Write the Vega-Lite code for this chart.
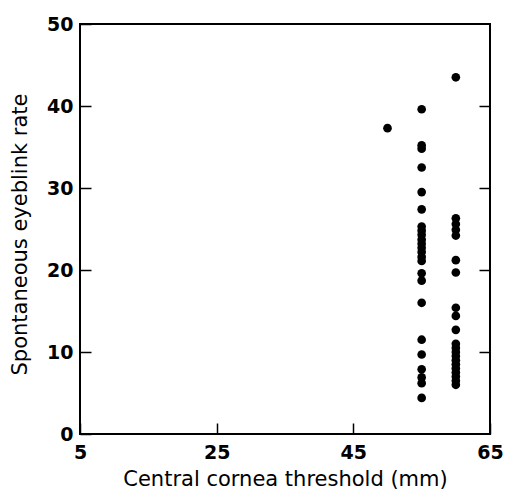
{
  "$schema": "https://vega.github.io/schema/vega-lite/v6.json",
  "width": 410,
  "height": 410,
  "autosize": {"type": "none"},
  "padding": {"left": 80, "top": 24, "right": 16, "bottom": 64},
  "background": "white",
  "config": {
    "font": "DejaVu Sans",
    "view": {"stroke": "black", "strokeWidth": 2}
  },
  "data": {
    "values": [
      {"threshold": 50, "rate": 37.3},
      {"threshold": 55, "rate": 39.6},
      {"threshold": 55, "rate": 35.2},
      {"threshold": 55, "rate": 34.8},
      {"threshold": 55, "rate": 32.5},
      {"threshold": 55, "rate": 29.5},
      {"threshold": 55, "rate": 27.4},
      {"threshold": 55, "rate": 25.3},
      {"threshold": 55, "rate": 24.8},
      {"threshold": 55, "rate": 24.3},
      {"threshold": 55, "rate": 23.7},
      {"threshold": 55, "rate": 23.2},
      {"threshold": 55, "rate": 22.7},
      {"threshold": 55, "rate": 22.2},
      {"threshold": 55, "rate": 21.6},
      {"threshold": 55, "rate": 21.1},
      {"threshold": 55, "rate": 19.6},
      {"threshold": 55, "rate": 18.7},
      {"threshold": 55, "rate": 16.0},
      {"threshold": 55, "rate": 11.5},
      {"threshold": 55, "rate": 9.7},
      {"threshold": 55, "rate": 7.9},
      {"threshold": 55, "rate": 6.9},
      {"threshold": 55, "rate": 6.2},
      {"threshold": 55, "rate": 4.4},
      {"threshold": 60, "rate": 43.5},
      {"threshold": 60, "rate": 26.3},
      {"threshold": 60, "rate": 25.6},
      {"threshold": 60, "rate": 24.9},
      {"threshold": 60, "rate": 24.2},
      {"threshold": 60, "rate": 21.2},
      {"threshold": 60, "rate": 19.7},
      {"threshold": 60, "rate": 15.4},
      {"threshold": 60, "rate": 14.4},
      {"threshold": 60, "rate": 12.7},
      {"threshold": 60, "rate": 11.0},
      {"threshold": 60, "rate": 10.5},
      {"threshold": 60, "rate": 10.0},
      {"threshold": 60, "rate": 9.5},
      {"threshold": 60, "rate": 9.0},
      {"threshold": 60, "rate": 8.5},
      {"threshold": 60, "rate": 8.0},
      {"threshold": 60, "rate": 7.5},
      {"threshold": 60, "rate": 7.0},
      {"threshold": 60, "rate": 6.5},
      {"threshold": 60, "rate": 6.0}
    ]
  },
  "layer": [
    {
      "mark": {"type": "point", "filled": true, "color": "black", "size": 75, "opacity": 1},
      "encoding": {
        "x": {
          "field": "threshold",
          "type": "quantitative",
          "scale": {"domain": [5, 65], "nice": false, "zero": false},
          "axis": {
            "title": "Central cornea threshold (mm)",
            "values": [5, 25, 45, 65],
            "grid": false,
            "domain": false,
            "tickSize": -11,
            "tickColor": "black",
            "tickWidth": 1.5,
            "labelPadding": 20,
            "labelFont": "DejaVu Sans",
            "labelFontSize": 19,
            "labelFontWeight": "bold",
            "labelColor": "black",
            "labelFlush": false,
            "titleFont": "DejaVu Sans",
            "titleFontSize": 21,
            "titleFontWeight": "normal",
            "titleColor": "black",
            "titlePadding": 6
          }
        },
        "y": {
          "field": "rate",
          "type": "quantitative",
          "scale": {"domain": [0, 50], "nice": false},
          "axis": {
            "title": "Spontaneous eyeblink rate",
            "values": [0, 10, 20, 30, 40, 50],
            "grid": false,
            "domain": false,
            "tickSize": -11,
            "tickColor": "black",
            "tickWidth": 1.5,
            "labelPadding": 18,
            "labelFont": "DejaVu Sans",
            "labelFontSize": 19,
            "labelFontWeight": "bold",
            "labelColor": "black",
            "labelFlush": false,
            "titleFont": "DejaVu Sans",
            "titleFontSize": 21,
            "titleFontWeight": "normal",
            "titleColor": "black",
            "titlePadding": 16,
            "titleY": 210
          }
        }
      }
    },
    {
      "mark": {"type": "point", "opacity": 0},
      "encoding": {
        "x": {"field": "threshold", "type": "quantitative", "axis": null},
        "y": {
          "field": "rate",
          "type": "quantitative",
          "axis": {
            "orient": "right",
            "title": null,
            "labels": false,
            "values": [10, 20, 30, 40],
            "grid": false,
            "domain": false,
            "tickSize": -11,
            "tickColor": "black",
            "tickWidth": 1.5
          }
        }
      }
    }
  ],
  "resolve": {"axis": {"x": "independent", "y": "independent"}}
}
